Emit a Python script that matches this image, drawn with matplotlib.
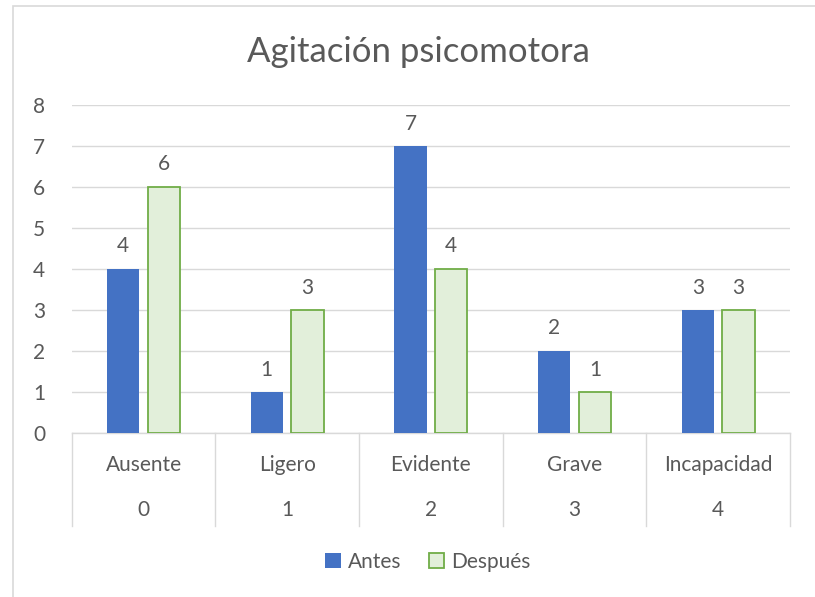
import numpy as np
import matplotlib.pyplot as plt
from matplotlib.patches import Rectangle
from matplotlib.lines import Line2D

plt.rcParams["font.family"] = ["Lato", "DejaVu Sans"]

# data
categories = ["Ausente", "Ligero", "Evidente", "Grave", "Incapacidad"]
codes = ["0", "1", "2", "3", "4"]
antes = [4, 1, 7, 2, 3]
despues = [6, 3, 4, 1, 3]

TEXT = "#595959"
BLUE = "#4472C4"
GREEN_FILL = "#E2EFDA"
GREEN_EDGE = "#70AD47"
GRID = "#D9D9D9"
FS = 15

fig = plt.figure(figsize=(8.15, 5.97), dpi=100)
ax = fig.add_axes([71.7 / 815, 1 - 433 / 597, (790 - 71.7) / 815, 328 / 597])

x = np.arange(len(categories))
w = 0.226
off = 0.142
b1 = ax.bar(x - off, antes, w, color=BLUE, label="Antes", zorder=3)
b2 = ax.bar(x + off, despues, w, color=GREEN_FILL, edgecolor=GREEN_EDGE,
            linewidth=1.3, label="Después", zorder=3)

for bars, vals in ((b1, antes), (b2, despues)):
    for r, v in zip(bars, vals):
        ax.annotate(str(v), (r.get_x() + r.get_width() / 2, v),
                    xytext=(0, 9), textcoords="offset points",
                    ha="center", va="bottom", fontsize=FS, color=TEXT)

ax.set_xlim(-0.5, len(categories) - 0.5)
ax.set_ylim(0, 8)
ax.set_yticks(range(0, 9))
ax.tick_params(axis="y", length=0, labelsize=FS, labelcolor=TEXT, pad=19)
ax.set_xticks([])
ax.yaxis.grid(True, color=GRID, linewidth=1)
ax.set_axisbelow(True)
for s in ["top", "right", "left"]:
    ax.spines[s].set_visible(False)
ax.spines["bottom"].set_color(GRID)
ax.spines["bottom"].set_linewidth(1)

# two-level category axis
tr = ax.get_xaxis_transform()
for i in range(len(categories) + 1):
    ax.add_line(Line2D([i - 0.5, i - 0.5], [0, -93 / 328], transform=tr,
                       color=GRID, linewidth=1, clip_on=False))
for i, (c, k) in enumerate(zip(categories, codes)):
    ax.text(i, -32 / 328, c, transform=tr, ha="center", va="center",
            fontsize=FS, color=TEXT)
    ax.text(i, -77 / 328, k, transform=tr, ha="center", va="center",
            fontsize=FS, color=TEXT)

fig.suptitle("Agitación psicomotora", x=418 / 815, y=1 - 52 / 597,
             va="center", fontsize=25, color=TEXT)

fig.legend(handles=[b1, b2], loc="center", bbox_to_anchor=(428 / 815, 1 - 562 / 597),
           ncol=2, frameon=False, fontsize=FS, labelcolor=TEXT,
           handlelength=0.75, handleheight=0.75, handletextpad=0.35, columnspacing=1.3)

# chart border
fig.patches.append(Rectangle((13 / 815, -0.1), 1.2, 1 - 6 / 597 + 0.1,
                             transform=fig.transFigure, fill=False,
                             edgecolor=GRID, linewidth=1.2))

fig.savefig("out.png", dpi=100)
